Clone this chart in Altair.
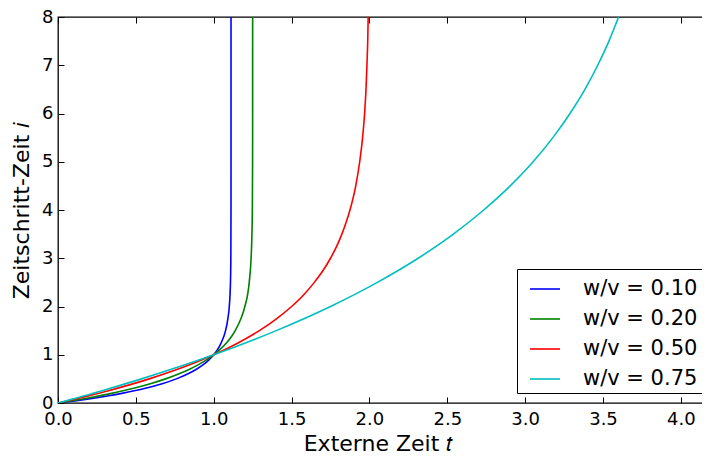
import altair as alt
import pandas as pd

labels = ["w/v = 0.10", "w/v = 0.20", "w/v = 0.50", "w/v = 0.75"]
colors = ["#0000ff", "#008000", "#ff0000", "#00bfbf"]

# w/v = 0.10
t_010 = [0.0, 0.121, 0.229, 0.325, 0.410, 0.554, 0.669, 0.760, 0.832, 0.889, 0.935, 0.971, 0.986, 1.0,
         1.023, 1.041, 1.055, 1.067, 1.076, 1.091, 1.100, 1.1076, 1.110, 1.111, 1.1111, 1.1111]
i_010 = [0.0, 0.05, 0.1, 0.15, 0.2, 0.3, 0.4, 0.5, 0.6, 0.7, 0.8, 0.9, 0.95, 1.0,
         1.1, 1.2, 1.3, 1.4, 1.5, 1.75, 2.0, 2.5, 3.0, 4.0, 5.0, 8.0]
# w/v = 0.20
t_020 = [0.0, 0.186, 0.344, 0.479, 0.593, 0.691, 0.774, 0.845, 0.905, 0.956, 0.979, 1.0,
         1.037, 1.083, 1.119, 1.138, 1.175, 1.200, 1.228, 1.240, 1.2455, 1.248, 1.2496, 1.2499, 1.25]
i_020 = [0.0, 0.1, 0.2, 0.3, 0.4, 0.5, 0.6, 0.7, 0.8, 0.9, 0.95, 1.0,
         1.1, 1.25, 1.4, 1.5, 1.75, 2.0, 2.5, 3.0, 3.5, 4.0, 5.0, 6.0, 8.0]
# w/v = 0.50
t_050 = [0.0, 0.318, 0.586, 0.811, 1.0, 1.159, 1.293, 1.405, 1.500, 1.580, 1.646, 1.703,
         1.750, 1.790, 1.823, 1.851, 1.875, 1.912, 1.9375, 1.956, 1.969, 1.978, 1.984, 1.989, 1.992]
i_050 = [0.0, 0.25, 0.5, 0.75, 1.0, 1.25, 1.5, 1.75, 2.0, 2.25, 2.5, 2.75,
         3.0, 3.25, 3.5, 3.75, 4.0, 4.5, 5.0, 5.5, 6.0, 6.5, 7.0, 7.5, 8.0]
# w/v = 0.75
t_075 = [0.0, 0.278, 0.536, 0.776, 1.0, 1.402, 1.750, 2.051, 2.313, 2.539, 2.734,
         2.904, 3.051, 3.178, 3.288, 3.384, 3.466, 3.538, 3.600]
i_075 = [0.0, 0.25, 0.5, 0.75, 1.0, 1.5, 2.0, 2.5, 3.0, 3.5, 4.0,
         4.5, 5.0, 5.5, 6.0, 6.5, 7.0, 7.5, 8.0]

x_ticks = [0.0, 0.5, 1.0, 1.5, 2.0, 2.5, 3.0, 3.5, 4.0]
y_ticks = [0, 1, 2, 3, 4, 5, 6, 7, 8]

rows = []
for lab, ts, iss in zip(labels, [t_010, t_020, t_050, t_075], [i_010, i_020, i_050, i_075]):
    for k, (t, i) in enumerate(zip(ts, iss)):
        rows.append({"series": lab, "t": t, "i": i, "k": k})
df = pd.DataFrame(rows)

W, H = 654, 386
FONT = "DejaVu Sans"
xs = alt.Scale(domain=[0, 4.2], nice=False, zero=False)
ys = alt.Scale(domain=[0, 8], nice=False)

lines = alt.Chart(df).mark_line(strokeWidth=1.6, clip=True, interpolate="monotone").encode(
    x=alt.X("t:Q", scale=xs, axis=alt.Axis(
        title="Externe Zeit 𝑡", values=x_ticks, format=".1f", orient="bottom",
        ticks=False, tickSize=0, domain=False, grid=False, labelPadding=7,
        labelFontSize=18, titleFontSize=22, titleBaseline="alphabetic",
        titleX=320, titleY=47, labelFlush=False)),
    y=alt.Y("i:Q", scale=ys, axis=alt.Axis(
        title="Zeitschritt-Zeit 𝑖", values=y_ticks, format="d", orient="left",
        ticks=False, tickSize=0, domain=False, grid=False, labelPadding=5,
        labelFontSize=18, titleFontSize=22, titleBaseline="alphabetic",
        titleX=-30, titleY=H / 2, labelFlush=False)),
    color=alt.Color("series:N", scale=alt.Scale(domain=labels, range=colors),
                    legend=alt.Legend(
                        title=None, orient="bottom-right", offset=10,
                        symbolType="stroke", symbolSize=900, symbolStrokeWidth=1.6,
                        symbolOffset=8, labelOffset=22, labelFontSize=21, labelFont=FONT,
                        labelColor="black", padding=4, rowPadding=4,
                        strokeColor="black", fillColor="white", cornerRadius=0)),
    order="k:Q",
)

def tick_layer(xorient, yorient):
    return alt.Chart(df).mark_line(strokeOpacity=0, clip=True).encode(
        x=alt.X("t:Q", scale=xs, axis=alt.Axis(
            title=None, values=x_ticks, orient=xorient, offset=-H, labels=False,
            domain=False, grid=False, ticks=True, tickSize=6, tickColor="black", tickWidth=1)),
        y=alt.Y("i:Q", scale=ys, axis=alt.Axis(
            title=None, values=y_ticks, orient=yorient, offset=-W, labels=False,
            domain=False, grid=False, ticks=True, tickSize=6, tickColor="black", tickWidth=1)),
        detail="series:N",
        order="k:Q",
    )

chart = alt.layer(lines, tick_layer("top", "right"), tick_layer("bottom", "left")).resolve_axis(
    x="independent", y="independent"
).properties(
    width=W, height=H, autosize=alt.AutoSizeParams(type="none"),
    padding={"left": 50, "top": 9, "right": -10, "bottom": 48},
    background="white",
).configure_view(stroke="black", strokeWidth=1.3).configure_axis(
    labelFont=FONT, titleFont=FONT, labelColor="black", titleColor="black",
    titleFontWeight="normal",
)

chart.save("out.html", embed_options={"renderer": "svg", "actions": False})
